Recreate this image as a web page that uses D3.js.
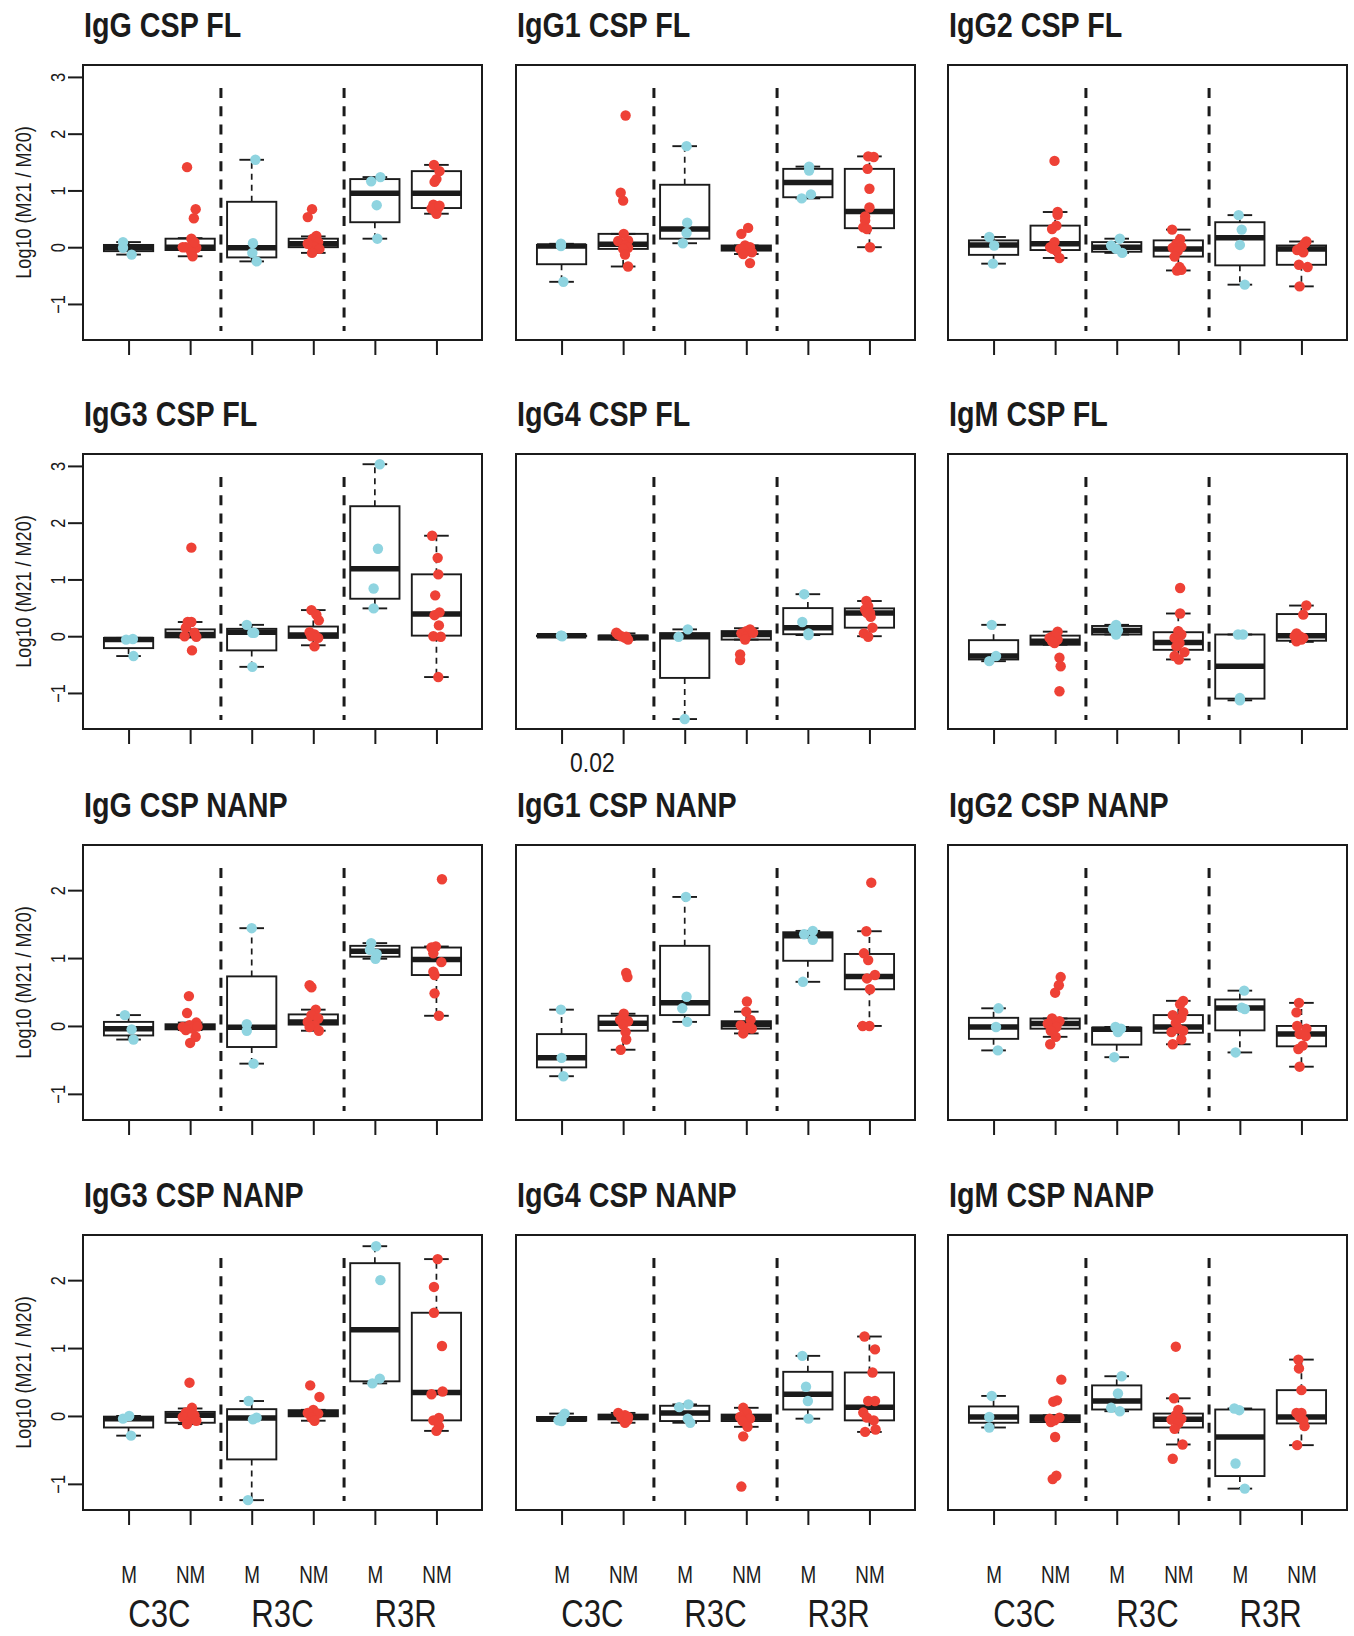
<!DOCTYPE html>
<html>
<head>
<meta charset="utf-8">
<script src="https://cdn.jsdelivr.net/npm/d3@7"></script>
<style>
  body { margin: 0; background: #fff; }
</style>
</head>
<body>
<script>
// panel titles, read left to right, top to bottom
const panelTitles = [
  "IgG CSP FL", "IgG1 CSP FL", "IgG2 CSP FL",
  "IgG3 CSP FL", "IgG4 CSP FL", "IgM CSP FL",
  "IgG CSP NANP", "IgG1 CSP NANP", "IgG2 CSP NANP",
  "IgG3 CSP NANP", "IgG4 CSP NANP", "IgM CSP NANP"
];
const groupLabels = ["M", "NM", "M", "NM", "M", "NM"];
const cohortLabels = ["C3C", "R3C", "R3R"];
const yTicksFL = [-1, 0, 1, 2, 3];
const yTicksNANP = [-1, 0, 1, 2];
const yDomainFL = [-1.635, 3.21];
const yDomainNANP = [-1.385, 2.665];

// box stats: [lower whisker, Q1, median, Q3, upper whisker] per group
// points: [log10 ratio, horizontal jitter in group units]
const boxesIgGFL = [
  [-0.13, -0.07, -0.01, 0.04, 0.09], [-0.16, -0.05, 0.00, 0.15, 0.16],
  [-0.25, -0.18, -0.01, 0.80, 1.54], [-0.10, 0.00, 0.06, 0.15, 0.19],
  [0.15, 0.44, 0.95, 1.20, 1.235], [0.59, 0.69, 0.95, 1.34, 1.45]
];
const pointsIgGFL = [
  [[0.09, -0.09], [-0.01, -0.09], [-0.13, 0.05]],
  [[1.41, -0.05], [0.67, 0.09], [0.51, 0.06], [0.15, 0.02], [0.06, 0.04], [0.00, -0.07], [-0.01, 0.10], [-0.09, 0.02], [-0.16, 0.04], [0.00, -0.12], [0.09, 0.07]],
  [[1.54, 0.06], [0.07, 0.02], [-0.10, 0.01], [-0.25, 0.08]],
  [[0.67, -0.02], [0.53, -0.09], [0.20, 0.05], [0.15, -0.01], [0.09, 0.08], [0.03, -0.03], [0.00, 0.02], [-0.03, 0.10], [-0.10, -0.02], [0.06, -0.09]],
  [[1.16, -0.06], [1.235, 0.09], [0.74, 0.03], [0.15, 0.04]],
  [[1.45, -0.04], [1.34, 0.05], [1.20, 0.00], [1.15, -0.03], [0.75, -0.05], [0.70, 0.03], [0.65, -0.03], [0.59, 0.00], [0.68, -0.08], [0.73, 0.05]]
];

const boxesIgG1FL = [
  [-0.61, -0.30, 0.02, 0.04, 0.06], [-0.34, -0.03, 0.05, 0.235, 0.235],
  [0.07, 0.15, 0.32, 1.10, 1.78], [-0.12, -0.06, -0.01, 0.03, 0.03],
  [0.86, 0.88, 1.14, 1.38, 1.42], [0.00, 0.335, 0.63, 1.38, 1.60]
];
const pointsIgG1FL = [
  [[0.06, -0.01], [0.02, -0.01], [-0.61, 0.03]],
  [[2.32, 0.04], [0.96, -0.04], [0.82, 0.00], [0.235, 0.01], [0.11, -0.08], [0.12, 0.08], [0.03, 0.03], [-0.01, 0.08], [-0.03, 0.00], [-0.13, 0.03], [-0.34, 0.08]],
  [[1.78, 0.03], [0.43, 0.04], [0.25, 0.03], [0.07, -0.03]],
  [[0.34, 0.03], [0.235, -0.08], [0.03, -0.02], [0.00, 0.06], [-0.03, -0.10], [-0.09, 0.09], [-0.12, -0.05], [-0.28, 0.06]],
  [[1.42, 0.02], [1.35, 0.02], [0.93, 0.05], [0.86, -0.10]],
  [[1.60, -0.02], [1.59, 0.07], [1.38, -0.03], [1.03, 0.00], [0.70, 0.00], [0.54, -0.07], [0.47, -0.07], [0.35, -0.10], [0.32, -0.04], [0.00, 0.01]]
];

const boxesIgG2FL = [
  [-0.29, -0.135, 0.04, 0.12, 0.18], [-0.19, -0.05, 0.06, 0.38, 0.62],
  [-0.10, -0.08, 0.00, 0.09, 0.15], [-0.41, -0.165, -0.03, 0.12, 0.31],
  [-0.66, -0.32, 0.165, 0.44, 0.565], [-0.69, -0.31, -0.03, 0.03, 0.10]
];
const pointsIgG2FL = [
  [[0.18, -0.07], [0.03, 0.01], [-0.29, -0.01]],
  [[1.52, -0.01], [0.62, 0.04], [0.57, 0.04], [0.38, 0.02], [0.32, -0.05], [0.09, -0.01], [-0.03, -0.04], [-0.06, 0.02], [-0.19, 0.07], [0.00, -0.08]],
  [[0.15, 0.05], [0.03, -0.09], [-0.03, -0.01], [-0.10, 0.09]],
  [[0.31, -0.10], [0.14, 0.03], [0.06, -0.03], [0.01, 0.05], [-0.01, -0.09], [-0.07, -0.01], [-0.165, -0.06], [-0.35, 0.02], [-0.40, 0.05], [-0.41, -0.02]],
  [[0.565, -0.02], [0.31, 0.03], [0.04, 0.00], [-0.66, 0.08]],
  [[0.10, 0.08], [0.06, 0.05], [0.00, 0.00], [-0.05, -0.07], [-0.09, 0.03], [-0.31, -0.04], [-0.35, 0.10], [-0.69, -0.03]]
];

const boxesIgG3FL = [
  [-0.35, -0.21, -0.06, -0.03, -0.03], [-0.02, -0.02, 0.03, 0.12, 0.25],
  [-0.54, -0.25, 0.07, 0.13, 0.20], [-0.16, -0.03, 0.02, 0.17, 0.46],
  [0.49, 0.66, 1.19, 2.29, 3.03], [-0.72, 0.01, 0.39, 1.09, 1.77]
];
const pointsIgG3FL = [
  [[-0.06, -0.04], [-0.05, 0.07], [-0.35, 0.08]],
  [[1.56, 0.02], [0.25, -0.04], [0.25, 0.02], [0.15, -0.07], [0.06, 0.07], [0.00, -0.09], [-0.01, 0.10], [-0.25, 0.03]],
  [[0.20, -0.08], [0.06, 0.01], [0.06, 0.04], [-0.54, 0.01]],
  [[0.46, -0.03], [0.38, 0.05], [0.28, 0.09], [0.07, -0.06], [0.03, 0.02], [0.00, -0.03], [-0.03, 0.08], [-0.18, 0.02]],
  [[3.03, 0.08], [1.54, 0.05], [0.84, -0.02], [0.49, -0.02]],
  [[1.77, -0.07], [1.38, 0.02], [1.09, 0.03], [0.72, -0.02], [0.42, 0.05], [0.37, -0.03], [0.19, 0.04], [0.00, -0.05], [-0.01, 0.07], [-0.72, 0.03]]
];

const boxesIgG4FL = [
  [0.00, 0.00, 0.01, 0.01, 0.02], [-0.06, -0.06, -0.02, 0.01, 0.05],
  [-1.46, -0.735, -0.01, 0.055, 0.12], [-0.06, -0.06, 0.03, 0.09, 0.14],
  [0.02, 0.035, 0.15, 0.495, 0.74], [0.00, 0.15, 0.41, 0.49, 0.62]
];
const pointsIgG4FL = [
  [[0.01, -0.01], [0.01, 0.00], [0.00, 0.01]],
  [[0.03, -0.08], [0.06, -0.11], [0.00, -0.03], [-0.03, 0.03], [-0.06, 0.08], [-0.01, 0.05]],
  [[0.12, 0.05], [-0.01, -0.10], [-1.46, 0.00]],
  [[0.12, 0.06], [0.09, 0.00], [0.05, -0.08], [0.00, 0.00], [-0.06, -0.02], [-0.32, -0.10], [-0.42, -0.10], [0.06, 0.11]],
  [[0.74, -0.06], [0.25, -0.09], [0.05, 0.01], [0.02, 0.01]],
  [[0.62, -0.05], [0.53, -0.02], [0.47, -0.07], [0.41, 0.01], [0.34, 0.02], [0.41, -0.04], [0.15, 0.05], [0.05, -0.09], [-0.01, -0.02]]
];

const boxesIgMFL = [
  [-0.44, -0.41, -0.35, -0.07, 0.20], [-0.15, -0.15, -0.09, 0.01, 0.08],
  [0.03, 0.03, 0.10, 0.18, 0.20], [-0.41, -0.24, -0.11, 0.07, 0.40],
  [-1.13, -1.10, -0.53, 0.03, 0.03], [-0.10, -0.08, 0.01, 0.39, 0.54]
];
const pointsIgMFL = [
  [[0.20, -0.03], [-0.35, 0.04], [-0.44, -0.07]],
  [[0.08, 0.04], [0.00, -0.04], [-0.03, -0.09], [-0.06, 0.04], [-0.12, -0.01], [-0.38, 0.07], [-0.53, 0.09], [-0.97, 0.07], [0.03, 0.02], [-0.09, -0.05]],
  [[0.20, -0.01], [0.13, -0.06], [0.03, -0.01], [0.10, 0.02]],
  [[0.85, 0.03], [0.40, 0.03], [0.09, 0.00], [0.03, 0.05], [-0.03, -0.06], [-0.12, 0.02], [-0.18, -0.03], [-0.28, 0.10], [-0.35, -0.06], [-0.41, 0.01]],
  [[0.03, -0.03], [0.03, 0.05], [-1.09, 0.00], [-1.13, 0.00]],
  [[0.54, 0.08], [0.38, 0.03], [0.05, -0.08], [0.00, -0.03], [-0.03, 0.03], [-0.09, -0.08], [0.00, -0.11], [-0.06, 0.00]]
];

const boxesIgGNANP = [
  [-0.20, -0.14, -0.04, 0.06, 0.16], [-0.06, -0.05, -0.015, 0.025, 0.05],
  [-0.555, -0.31, -0.02, 0.73, 1.44], [-0.07, 0.02, 0.06, 0.17, 0.24],
  [0.99, 1.02, 1.10, 1.18, 1.22], [0.15, 0.75, 0.98, 1.155, 1.17]
];
const pointsIgGNANP = [
  [[0.16, -0.06], [-0.05, 0.05], [-0.20, 0.08]],
  [[0.44, -0.02], [0.19, -0.05], [0.05, 0.10], [0.01, -0.01], [-0.015, -0.12], [-0.04, 0.04], [-0.06, -0.07], [-0.16, 0.09], [-0.25, 0.00], [-0.01, 0.12]],
  [[1.44, 0.00], [0.025, -0.08], [-0.07, -0.08], [-0.555, 0.03]],
  [[0.60, -0.06], [0.57, -0.03], [0.24, 0.04], [0.16, -0.03], [0.11, 0.08], [0.06, -0.09], [0.01, 0.02], [-0.015, -0.06], [-0.07, 0.09]],
  [[1.22, -0.06], [1.12, -0.08], [1.06, 0.03], [0.99, 0.01]],
  [[2.16, 0.09], [1.155, -0.08], [1.17, -0.01], [1.07, -0.05], [0.94, 0.08], [0.80, -0.05], [0.75, -0.03], [0.48, -0.03], [0.15, 0.04]]
];

const boxesIgG1NANP = [
  [-0.74, -0.61, -0.47, -0.12, 0.24], [-0.35, -0.07, 0.04, 0.15, 0.18],
  [0.06, 0.16, 0.34, 1.18, 1.90], [-0.11, -0.04, 0.02, 0.07, 0.21],
  [0.65, 0.96, 1.33, 1.38, 1.40], [0.00, 0.54, 0.73, 1.06, 1.395]
];
const pointsIgG1NANP = [
  [[0.24, -0.01], [-0.47, 0.00], [-0.74, 0.03]],
  [[0.78, 0.05], [0.72, 0.07], [0.18, 0.01], [0.09, -0.05], [0.07, 0.08], [0.02, 0.00], [-0.09, 0.04], [-0.20, 0.05], [-0.35, -0.04]],
  [[1.90, 0.02], [0.43, 0.03], [0.26, -0.04], [0.06, 0.04]],
  [[0.36, 0.01], [0.21, 0.00], [0.09, 0.07], [0.01, -0.09], [-0.025, 0.03], [-0.11, -0.05], [-0.04, 0.09]],
  [[1.40, 0.08], [1.35, -0.06], [1.27, 0.08], [0.65, -0.08]],
  [[2.11, 0.03], [1.395, -0.05], [1.07, -0.09], [0.97, -0.02], [0.75, 0.09], [0.70, -0.04], [0.54, 0.01], [0.00, -0.11], [0.00, 0.00]]
];

const boxesIgG2NANP = [
  [-0.36, -0.19, -0.015, 0.12, 0.26], [-0.16, -0.04, 0.035, 0.11, 0.11],
  [-0.46, -0.275, -0.05, -0.025, -0.015], [-0.27, -0.10, -0.015, 0.16, 0.37],
  [-0.39, -0.065, 0.265, 0.39, 0.52], [-0.60, -0.30, -0.12, 0.00, 0.34]
];
const pointsIgG2NANP = [
  [[0.26, 0.08], [-0.015, 0.04], [-0.36, 0.07]],
  [[0.72, 0.09], [0.60, 0.06], [0.49, 0.00], [0.11, -0.05], [0.07, 0.07], [0.035, -0.12], [-0.015, 0.02], [-0.07, -0.07], [-0.16, 0.01], [-0.27, -0.08]],
  [[-0.015, -0.02], [-0.04, 0.07], [-0.09, 0.02], [-0.46, -0.04]],
  [[0.37, 0.08], [0.32, 0.03], [0.20, 0.08], [0.16, -0.09], [0.12, 0.05], [0.045, -0.04], [-0.04, 0.00], [-0.07, 0.08], [-0.09, -0.11], [-0.20, 0.05], [-0.27, -0.09]],
  [[0.52, 0.07], [0.27, 0.03], [0.25, 0.08], [-0.39, -0.07]],
  [[0.34, -0.04], [0.20, -0.08], [0.00, -0.07], [-0.04, 0.08], [-0.12, -0.03], [-0.15, 0.07], [-0.29, 0.02], [-0.34, -0.05], [-0.60, -0.03]]
];

const boxesIgG3NANP = [
  [-0.29, -0.17, -0.04, -0.01, 0.00], [-0.12, -0.10, 0.01, 0.06, 0.11],
  [-1.24, -0.64, -0.03, 0.10, 0.22], [-0.07, -0.005, 0.035, 0.085, 0.09],
  [0.48, 0.51, 1.27, 2.25, 2.50], [-0.22, -0.065, 0.345, 1.52, 2.31]
];
const pointsIgG3NANP = [
  [[-0.04, -0.09], [0.00, 0.01], [-0.29, 0.04]],
  [[0.49, -0.01], [0.12, 0.03], [0.05, -0.07], [0.01, 0.07], [-0.015, -0.12], [-0.04, 0.02], [-0.07, 0.10], [-0.12, -0.05], [0.03, 0.04]],
  [[0.22, -0.05], [-0.025, 0.08], [-0.05, 0.02], [-1.24, -0.06]],
  [[0.45, -0.05], [0.28, 0.10], [0.09, 0.00], [0.045, -0.09], [0.035, 0.08], [-0.025, -0.03], [-0.07, 0.02]],
  [[2.50, 0.02], [2.00, 0.09], [0.55, 0.08], [0.48, -0.04]],
  [[2.31, 0.02], [1.90, -0.04], [1.52, -0.04], [1.03, 0.09], [0.32, -0.08], [0.36, 0.10], [-0.03, 0.04], [-0.065, -0.05], [-0.15, 0.04], [-0.22, 0.00]]
];

const boxesIgG4NANP = [
  [-0.075, -0.07, -0.05, -0.015, 0.035], [-0.10, -0.05, -0.015, 0.02, 0.045],
  [-0.10, -0.075, 0.045, 0.15, 0.17], [-0.16, -0.075, -0.025, 0.02, 0.12],
  [-0.04, 0.095, 0.32, 0.65, 0.885], [-0.235, -0.065, 0.13, 0.64, 1.17]
];
const pointsIgG4NANP = [
  [[0.035, 0.05], [-0.025, 0.00], [-0.065, -0.05], [-0.075, 0.00]],
  [[0.045, -0.08], [0.01, 0.03], [-0.025, -0.03], [-0.065, 0.07], [-0.10, 0.03], [-0.015, 0.08]],
  [[0.13, -0.09], [0.17, 0.06], [-0.04, 0.05], [-0.10, 0.09]],
  [[0.12, -0.05], [0.045, 0.01], [-0.015, -0.10], [-0.04, 0.06], [-0.075, -0.06], [-0.16, 0.02], [-0.30, -0.05], [-1.04, -0.08]],
  [[0.885, -0.09], [0.43, -0.03], [0.22, 0.00], [-0.04, 0.01]],
  [[1.17, -0.08], [0.98, 0.09], [0.64, 0.05], [0.22, -0.02], [0.22, 0.09], [0.05, -0.10], [-0.025, -0.04], [-0.065, 0.07], [-0.20, 0.10], [-0.235, -0.07]]
];

const boxesIgMNANP = [
  [-0.17, -0.10, -0.015, 0.14, 0.295], [-0.09, -0.09, -0.04, 0.01, 0.01],
  [0.07, 0.095, 0.22, 0.45, 0.585], [-0.42, -0.17, -0.05, 0.035, 0.26],
  [-1.07, -0.885, -0.31, 0.095, 0.11], [-0.43, -0.11, -0.015, 0.38, 0.83]
];
const pointsIgMNANP = [
  [[0.295, -0.03], [-0.015, -0.07], [-0.17, -0.07]],
  [[0.535, 0.10], [0.23, 0.03], [0.21, -0.03], [-0.025, 0.07], [-0.04, -0.09], [-0.065, -0.01], [-0.09, -0.07], [-0.31, 0.00], [-0.88, 0.02], [-0.93, -0.04]],
  [[0.585, 0.08], [0.33, 0.02], [0.12, -0.09], [0.07, 0.05]],
  [[1.02, -0.04], [0.26, -0.07], [0.09, 0.00], [0.01, -0.04], [-0.04, 0.05], [-0.055, -0.11], [-0.11, 0.00], [-0.19, -0.06], [-0.42, 0.07], [-0.63, -0.09]],
  [[0.11, -0.09], [0.085, -0.01], [-0.70, -0.07], [-1.07, 0.08]],
  [[0.83, -0.05], [0.70, -0.04], [0.38, 0.00], [0.045, -0.08], [0.045, 0.00], [-0.065, 0.03], [-0.15, 0.05], [-0.43, -0.07], [-0.015, -0.03]]
];

const panelBoxes = [boxesIgGFL, boxesIgG1FL, boxesIgG2FL, boxesIgG3FL, boxesIgG4FL, boxesIgMFL,
  boxesIgGNANP, boxesIgG1NANP, boxesIgG2NANP, boxesIgG3NANP, boxesIgG4NANP, boxesIgMNANP];
const panelPoints = [pointsIgGFL, pointsIgG1FL, pointsIgG2FL, pointsIgG3FL, pointsIgG4FL, pointsIgMFL,
  pointsIgGNANP, pointsIgG1NANP, pointsIgG2NANP, pointsIgG3NANP, pointsIgG4NANP, pointsIgMNANP];

// layout
const W = 1354, H = 1636;
const colLeft = [83, 516, 948];
const rowTop = [65, 454, 845, 1235];
const pw = 399, ph = 275;
const FONT = "'Liberation Sans', Arial, sans-serif";
const NARROW = "scale(0.82,1)";   // condensed look of the original type
const INK = "#1b1b1b";
const BLUE = "#8fd4e0", RED = "#ee4136";

const svg = d3.select("body").append("svg")
  .attr("width", W).attr("height", H)
  .style("font-family", FONT);

// condensed text helper
function narrowText(parent, x, y, str, size, opts = {}) {
  return parent.append("text")
    .attr("transform", `translate(${x},${y})${opts.rotate ? " rotate(-90)" : ""} ${NARROW}`)
    .attr("text-anchor", opts.anchor || "start")
    .attr("font-size", size)
    .attr("font-weight", opts.bold ? "bold" : null)
    .attr("fill", INK)
    .text(str);
}

panelTitles.forEach((title, i) => {
  const col = i % 3, row = Math.floor(i / 3);
  const left = colLeft[col], top = rowTop[row];
  const isFL = row < 2;
  const x = d3.scaleLinear().domain([0.26, 6.74]).range([left, left + pw]);
  const y = d3.scaleLinear().domain(isFL ? yDomainFL : yDomainNANP).range([top + ph, top]);
  const g = svg.append("g");
  const boxes = panelBoxes[i], pts = panelPoints[i];

  // title
  narrowText(g, left + 1, top - 28, title, 35, { bold: true });

  // group separators
  [2.5, 4.5].forEach(v => {
    g.append("line")
      .attr("x1", x(v)).attr("x2", x(v))
      .attr("y1", y.range()[1] + 23).attr("y2", y.range()[0] - 9)
      .attr("stroke", INK).attr("stroke-width", 3)
      .attr("stroke-dasharray", "10,8.3");
  });

  // boxplots
  boxes.forEach((b, k) => {
    const c = k + 1;
    const [lo, q1, med, q3, hi] = b;
    const bg = g.append("g").attr("stroke", INK).attr("fill", "none");
    // whiskers
    bg.append("line").attr("x1", x(c)).attr("x2", x(c)).attr("y1", y(q3)).attr("y2", y(hi))
      .attr("stroke-width", 1.7).attr("stroke-dasharray", "6,5");
    bg.append("line").attr("x1", x(c)).attr("x2", x(c)).attr("y1", y(q1)).attr("y2", y(lo))
      .attr("stroke-width", 1.7).attr("stroke-dasharray", "6,5");
    // staples
    [lo, hi].forEach(v => {
      bg.append("line").attr("x1", x(c - 0.2)).attr("x2", x(c + 0.2))
        .attr("y1", y(v)).attr("y2", y(v)).attr("stroke-width", 1.9);
    });
    // box
    bg.append("rect")
      .attr("x", x(c - 0.4)).attr("width", x(c + 0.4) - x(c - 0.4))
      .attr("y", y(q3)).attr("height", Math.max(0.5, y(q1) - y(q3)))
      .attr("stroke-width", 1.9);
    // median
    bg.append("line").attr("x1", x(c - 0.4)).attr("x2", x(c + 0.4))
      .attr("y1", y(med)).attr("y2", y(med)).attr("stroke-width", 5.5);
  });

  // jittered points
  pts.forEach((grp, k) => {
    g.append("g").selectAll("circle")
      .data(grp)
      .join("circle")
      .attr("cx", d => x(k + 1 + d[1]))
      .attr("cy", d => y(d[0]))
      .attr("r", 5.2)
      .attr("fill", k % 2 === 0 ? BLUE : RED);
  });

  // frame
  g.append("rect")
    .attr("x", left).attr("y", top).attr("width", pw).attr("height", ph)
    .attr("fill", "none").attr("stroke", INK).attr("stroke-width", 2);

  // x axis ticks
  const xAxis = g.append("g")
    .attr("transform", `translate(0,${top + ph})`)
    .call(d3.axisBottom(x).tickValues([1, 2, 3, 4, 5, 6]).tickSize(15)
      .tickFormat((d, j) => row === 3 ? groupLabels[j] : ""));
  xAxis.select(".domain").remove();
  xAxis.selectAll(".tick line").attr("stroke", INK).attr("stroke-width", 2);
  xAxis.selectAll(".tick text")
    .attr("y", null).attr("dy", null)
    .attr("transform", `translate(0,73) ${NARROW}`)
    .attr("font-family", FONT).attr("font-size", 23).attr("fill", INK);

  if (row === 3) {
    cohortLabels.forEach((lab, j) => {
      narrowText(g, x(2 * j + 1.5), top + ph + 117, lab, 38, { anchor: "middle" });
    });
  }

  // y axis on left column
  if (col === 0) {
    const yAxis = g.append("g")
      .attr("transform", `translate(${left},0)`)
      .call(d3.axisLeft(y).tickValues(isFL ? yTicksFL : yTicksNANP).tickSize(15)
        .tickFormat(d => d < 0 ? "\u2212" + Math.abs(d) : String(d)));
    yAxis.select(".domain").remove();
    yAxis.selectAll(".tick line").attr("stroke", INK).attr("stroke-width", 2);
    yAxis.selectAll(".tick text")
      .attr("x", null).attr("y", null).attr("dy", null)
      .attr("transform", `translate(-18,0) rotate(-90) ${NARROW}`)
      .attr("text-anchor", "middle")
      .attr("font-family", FONT).attr("font-size", 20).attr("fill", INK);

    narrowText(g, 31, top + ph / 2, "Log10 (M21 / M20)", 22, { rotate: true, anchor: "middle" });
  }
});

// stray annotation under the IgG4 CSP FL panel
narrowText(svg, 570, 772, "0.02", 28);
</script>
</body>
</html>
